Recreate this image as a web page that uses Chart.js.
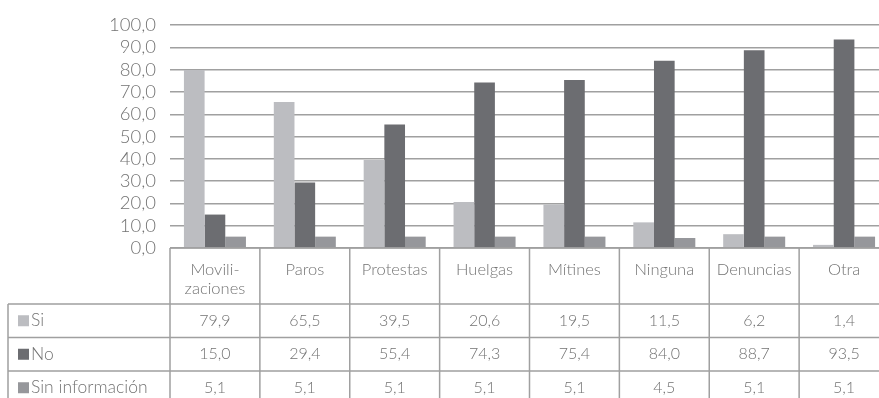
<!DOCTYPE html>
<html lang="es">
<head>
<meta charset="utf-8">
<title>Acciones colectivas</title>
<script src="https://cdn.jsdelivr.net/npm/chart.js@4.4.1/dist/chart.umd.min.js"></script>
<style>
  html, body { margin: 0; padding: 0; background: #ffffff; overflow: hidden; }
  #wrap { width: 879px; height: 398px; overflow: hidden; position: relative; }
  canvas { display: block; }
</style>
</head>
<body>
<div id="wrap"><canvas id="chart" width="889" height="398"></canvas></div>
<script>
// Categorías (las que llevan guion se parten en dos líneas)
const categories = [['Movili-', 'zaciones'], ['Paros'], ['Protestas'], ['Huelgas'], ['Mítines'], ['Ninguna'], ['Denuncias'], ['Otra']];
const seriesNames = ['Si', 'No', 'Sin información'];
const si = [79.9, 65.5, 39.5, 20.6, 19.5, 11.5, 6.2, 1.4];
const no = [15.0, 29.4, 55.4, 74.3, 75.4, 84.0, 88.7, 93.5];
const sinInfo = [5.1, 5.1, 5.1, 5.1, 5.1, 4.5, 5.1, 5.1];
const yTicks = [0, 10, 20, 30, 40, 50, 60, 70, 80, 90, 100];

const colors = ['#bcbdc1', '#6c6d71', '#96979b'];
const textColor = '#737373';
const lineColor = '#a0a0a0';
const fontFamily = 'Lato, "Open Sans", sans-serif';
const fontWeight = 300;

const fmt = v => v.toFixed(1).replace('.', ',');

// Tabla de datos dibujada bajo el área del gráfico, alineada con la escala de categorías
const dataTable = {
  id: 'dataTable',
  afterDraw(chart) {
    const ctx = chart.ctx;
    const x = chart.scales.x;
    const area = chart.chartArea;
    const H = chart.height;
    const W = chart.width;
    const half = (x.getPixelForValue(1) - x.getPixelForValue(0)) / 2;
    const top = area.bottom;
    const headerBottom = top + 56;
    const rowH = 33.5;
    const rows = [headerBottom, headerBottom + rowH, headerBottom + 2 * rowH, headerBottom + 3 * rowH];
    const tableLeft = 8;
    const values = [si, no, sinInfo];

    ctx.save();
    ctx.strokeStyle = lineColor;
    ctx.lineWidth = 1.5;
    ctx.beginPath();
    // borde superior (eje de categorías)
    ctx.moveTo(area.left, top);
    ctx.lineTo(W, top);
    // líneas de filas
    for (let r = 0; r < 3; r++) {
      ctx.moveTo(tableLeft, rows[r]);
      ctx.lineTo(W, rows[r]);
    }
    // divisiones de columnas
    for (let i = 0; i <= categories.length; i++) {
      const bx = x.getPixelForValue(i) - half;
      ctx.moveTo(bx, top);
      ctx.lineTo(bx, H);
    }
    ctx.moveTo(tableLeft, headerBottom);
    ctx.lineTo(tableLeft, H);
    ctx.stroke();

    ctx.fillStyle = textColor;
    ctx.font = fontWeight + ' 16.5px ' + fontFamily;
    ctx.textAlign = 'center';
    ctx.textBaseline = 'middle';
    categories.forEach((lines, i) => {
      const cx = x.getPixelForValue(i);
      lines.forEach((t, k) => ctx.fillText(t, cx, top + 22 + k * 18.5));
    });

    values.forEach((arr, r) => {
      const cy = (rows[r] + rows[r] + rowH) / 2;
      ctx.font = fontWeight + ' 16px ' + fontFamily;
      arr.forEach((v, i) => {
        ctx.fillStyle = textColor;
        ctx.textAlign = 'center';
        ctx.fillText(fmt(v), x.getPixelForValue(i), cy);
      });
      // clave de la serie
      ctx.fillStyle = colors[r];
      ctx.fillRect(18, cy - 5.5, 11, 11);
      ctx.fillStyle = textColor;
      ctx.textAlign = 'left';
      ctx.font = fontWeight + ' 17.5px ' + fontFamily;
      ctx.fillText(seriesNames[r], 31, cy);
    });
    ctx.restore();
  }
};

new Chart(document.getElementById('chart'), {
  type: 'bar',
  data: {
    labels: categories.map(c => c.join('')),
    datasets: [
      { label: seriesNames[0], data: si, backgroundColor: colors[0] },
      { label: seriesNames[1], data: no, backgroundColor: colors[1] },
      { label: seriesNames[2], data: sinInfo, backgroundColor: colors[2] }
    ]
  },
  options: {
    responsive: false,
    animation: false,
    devicePixelRatio: 1,
    layout: { padding: { top: 22, bottom: 150, left: 0, right: 0 } },
    datasets: { bar: { categoryPercentage: 0.69, barPercentage: 1.0, borderWidth: 0 } },
    plugins: { legend: { display: false }, tooltip: { enabled: false } },
    scales: {
      x: { display: false },
      y: {
        min: 0,
        max: 100,
        afterFit(scale) { scale.width = 170; },
        afterBuildTicks(scale) { scale.ticks = yTicks.map(v => ({ value: v })); },
        border: { display: false },
        grid: { color: lineColor, lineWidth: 1.5, drawTicks: false },
        ticks: {
          autoSkip: false,
          padding: 14,
          color: textColor,
          font: { family: fontFamily, size: 18.5, weight: fontWeight },
          callback: v => fmt(v)
        }
      }
    }
  },
  plugins: [dataTable]
});
</script>
</body>
</html>
